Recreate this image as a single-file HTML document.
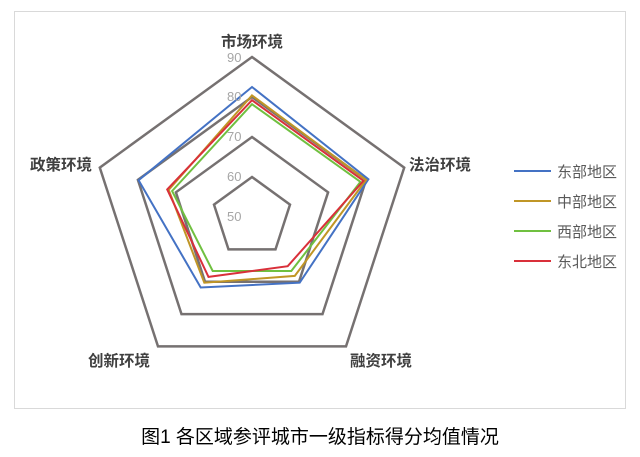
<!DOCTYPE html>
<html><head><meta charset="utf-8">
<style>
body{margin:0;background:#fff;width:640px;height:457px;overflow:hidden;font-family:"Liberation Sans","Noto Sans CJK SC",sans-serif}
</style></head><body>
<svg id="s" width="640" height="457" xmlns="http://www.w3.org/2000/svg" style="position:absolute;left:0;top:0">
<rect x="14.5" y="11.5" width="611" height="397" fill="#fff" stroke="#d9d9d9"/>
<g id="rings" fill="none" stroke="#767171" stroke-width="2.5"></g>
<g id="series" fill="none" stroke-width="2"></g>
<g font-size="13" fill="#a6a6a6">
<text x="227" y="62">90</text><text x="227" y="101">80</text><text x="227" y="141">70</text><text x="227" y="181">60</text><text x="227" y="221">50</text>
</g>
<g font-size="15.5" font-weight="bold" fill="#404040">
<text x="252" y="47" text-anchor="middle">市场环境</text>
<text x="409" y="170">法治环境</text>
<text x="30" y="170">政策环境</text>
<text x="88" y="366">创新环境</text>
<text x="350" y="366">融资环境</text>
</g>
<g stroke-width="2">
<line x1="514" y1="171" x2="551" y2="171" stroke="#4472c4"/>
<line x1="514" y1="201" x2="551" y2="201" stroke="#c09626"/>
<line x1="514" y1="231" x2="551" y2="231" stroke="#70c040"/>
<line x1="514" y1="261" x2="551" y2="261" stroke="#d9303a"/>
</g>
<g font-size="15" fill="#595959">
<text x="557" y="177">东部地区</text><text x="557" y="207">中部地区</text><text x="557" y="237">西部地区</text><text x="557" y="267">东北地区</text>
</g>
<text x="320" y="443" text-anchor="middle" font-size="19" fill="#000">图1  各区域参评城市一级指标得分均值情况</text>
</svg>
<script>
var cx=252,cy=217,ns="http://www.w3.org/2000/svg";
var ang=[-90,-18,54,126,198].map(function(a){return a*Math.PI/180});
function pts(vals){return vals.map(function(v,i){var r=(v-50)*4;return (cx+r*Math.cos(ang[i])).toFixed(1)+","+(cy+r*Math.sin(ang[i])).toFixed(1)}).join(" ")}
var rg=document.getElementById("rings");
[90,80,70,60].forEach(function(v){var p=document.createElementNS(ns,"polygon");p.setAttribute("points",pts([v,v,v,v,v]));rg.appendChild(p)});
var sg=document.getElementById("series");
[[["#4472c4"],[82.5,80.6,70.3,71.8,79.8]],[["#c09626"],[80.4,80,68.2,70.3,71.9]],[["#70c040"],[78.2,78.5,66.7,66.7,71]],[["#d9303a"],[79.2,79.3,65.2,68.5,72.3]]].forEach(function(s){var p=document.createElementNS(ns,"polygon");p.setAttribute("points",pts(s[1]));p.setAttribute("stroke",s[0][0]);sg.appendChild(p)});
</script>
</body></html>
